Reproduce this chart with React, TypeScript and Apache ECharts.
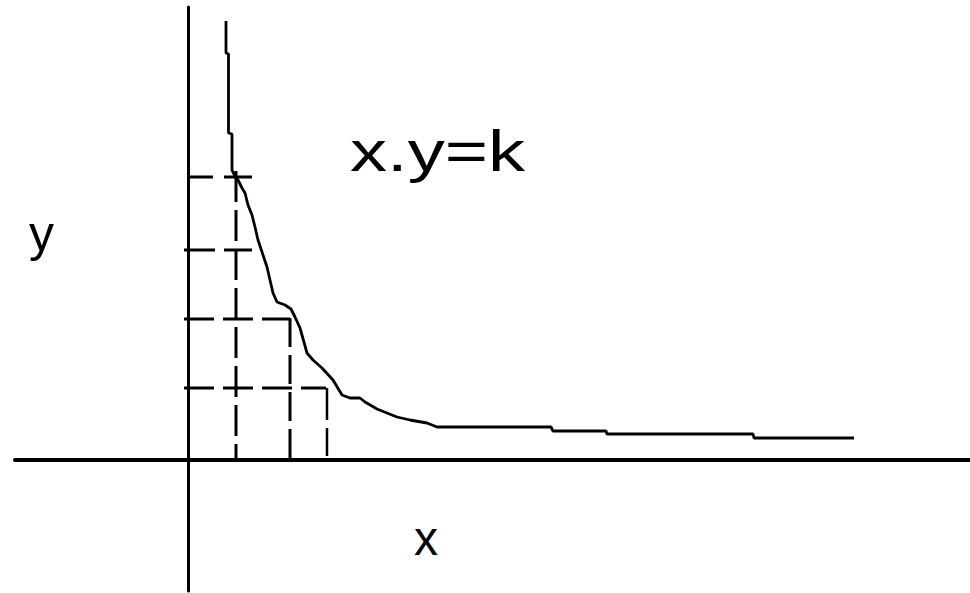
import React, { useEffect, useRef } from "react";
import * as echarts from "echarts";

// Inverse-proportion curve x·y = k, sketched as a stepped polyline.
const curveX = [
  3.75, 3.75, 4.0, 4.0, 4.35, 4.35, 4.75, 4.95, 5.35, 5.65, 5.95, 6.35, 6.65, 6.95,
  7.85, 8.45, 8.85, 9.65, 10.25, 10.65, 11.15, 11.85, 12.45, 13.35, 14.45, 15.35,
  16.15, 17.15, 17.65, 18.85, 19.85, 20.85, 22.15, 23.85, 24.85, 36.25, 36.45,
  41.75, 41.85, 56.45, 56.55, 66.55,
];
const curveY = [
  43.9, 40.7, 40.6, 32.7, 32.6, 29.0, 28.2, 28.0, 27.2, 26.7, 25.5, 24.5, 23.3, 22.0,
  19.3, 16.7, 15.8, 15.5, 15.1, 14.3, 13.2, 10.7, 10.0, 9.2, 8.0, 6.5,
  6.2, 6.2, 5.8, 5.1, 4.7, 4.3, 4.0, 3.7, 3.3, 3.3, 2.9,
  2.9, 2.6, 2.6, 2.2, 2.2,
];

// Dashed reading lines: [x1, y1, x2, y2]
const guideLines: number[][] = [
  [0.15, 28.3, 6.35, 28.3],
  [-0.45, 21.0, 6.35, 21.0],
  [-0.45, 14.1, 10.15, 14.1],
  [-0.45, 7.2, 13.75, 7.2],
  [4.75, 0, 4.75, 29.1],
  [10.15, 14.2, 10.15, 0],
  [13.85, 7.2, 13.85, 0.4],
];

// Axis extents
const xRange = [-17.35, 78.15];
const yRange = [-13.1, 45.3];

const titleText = "x.y=k";
const xName = "x";
const yName = "y";

const guideStyles = [
  { dash: [23, 11, 30, 9], offset: 0, width: 3 },
  { dash: [31, 9], offset: 0, width: 3 },
  { dash: [30, 9], offset: 0, width: 3 },
  { dash: [30, 9], offset: 0, width: 3 },
  { dash: [31, 8], offset: 15, width: 3 },
  { dash: [29, 8], offset: 0, width: 3 },
  { dash: [32, 8], offset: 0, width: 2.5 },
];

const FONT = "'Liberation Sans', Arial, sans-serif";

export default function App() {
  const ref = useRef<HTMLDivElement>(null);

  useEffect(() => {
    if (!ref.current) return;
    const chart = echarts.init(ref.current, null, { renderer: "svg" });

    const guideSeries = guideLines.map((g, i) => ({
      type: "line",
      data: [
        [g[0], g[1]],
        [g[2], g[3]],
      ],
      showSymbol: false,
      symbol: "none",
      silent: true,
      lineStyle: {
        color: "#000",
        width: guideStyles[i].width,
        type: guideStyles[i].dash,
        dashOffset: guideStyles[i].offset,
        cap: "butt",
      },
      z: 2,
    }));

    chart.setOption({
      animation: false,
      backgroundColor: "#fff",
      grid: { left: 15, right: 0, top: 7, bottom: 2, containLabel: false },
      xAxis: {
        type: "value",
        min: xRange[0],
        max: xRange[1],
        axisLine: { show: true, onZero: true, lineStyle: { color: "#000", width: 4 } },
        axisTick: { show: false },
        axisLabel: { show: false },
        splitLine: { show: false },
      },
      yAxis: {
        type: "value",
        min: yRange[0],
        max: yRange[1],
        axisLine: { show: true, onZero: true, lineStyle: { color: "#000", width: 3 } },
        axisTick: { show: false },
        axisLabel: { show: false },
        splitLine: { show: false },
      },
      series: [
        ...guideSeries,
        {
          type: "line",
          data: curveX.map((x, i) => [x, curveY[i]]),
          showSymbol: false,
          symbol: "none",
          silent: true,
          lineStyle: { color: "#000", width: 2.8 },
          z: 3,
        },
      ],
      graphic: [
        {
          type: "text",
          x: 350,
          y: 151,
          scaleX: 1.3,
          style: {
            text: titleText,
            fill: "#000",
            font: `57px ${FONT}`,
            verticalAlign: "middle",
            align: "left",
          },
        },
        {
          type: "text",
          x: 29,
          y: 234,
          style: {
            text: yName,
            fill: "#000",
            font: `50px ${FONT}`,
            verticalAlign: "middle",
            align: "left",
          },
        },
        {
          type: "text",
          x: 414,
          y: 538,
          style: {
            text: xName,
            fill: "#000",
            font: `48px ${FONT}`,
            verticalAlign: "middle",
            align: "left",
          },
        },
      ],
    });

    return () => chart.dispose();
  }, []);

  return (
    <div
      ref={ref}
      style={{ position: "absolute", left: 0, top: 0, width: 970, height: 593 }}
    />
  );
}
